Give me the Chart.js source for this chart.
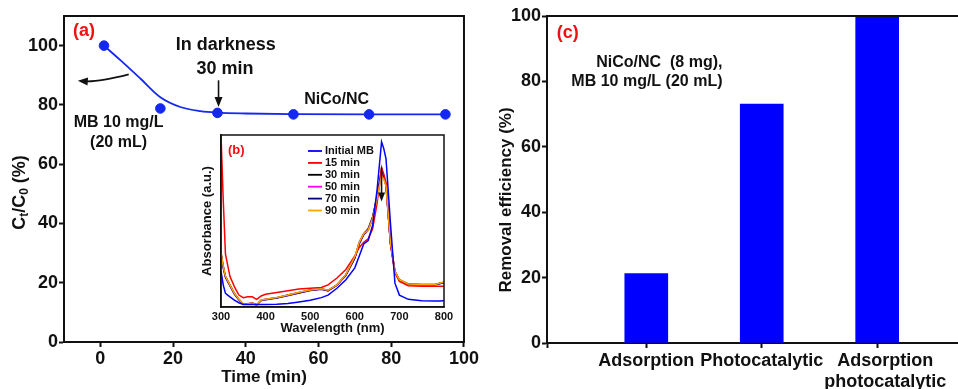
<!DOCTYPE html>
<html>
<head>
<meta charset="utf-8">
<script src="https://cdn.jsdelivr.net/npm/chart.js@4.4.1/dist/chart.umd.min.js"></script>
<style>
  html, body { margin: 0; padding: 0; background: #fff; }
  #wrap { position: relative; width: 958px; height: 389px; overflow: hidden; }
  canvas { position: absolute; }
  #chartA { left: 0; top: 0; }
  #chartB { left: 196px; top: 128px; }
  #chartC { left: 480px; top: 0; }
</style>
</head>
<body>
<div id="wrap">
  <canvas id="chartA" width="480" height="389"></canvas>
  <canvas id="chartB" width="262" height="210"></canvas>
  <canvas id="chartC" width="478" height="389"></canvas>
</div>
<script>
"use strict";

// ── Panel (a): Ct/C0 vs time ──────────────────────────────
const timePts    = [1, 16.5, 32.2, 53.1, 73.9, 94.9];
const ratioPts   = [100, 78.8, 77.3, 76.8, 76.8, 76.8];
const fitTime    = [1, 5.5, 11, 16.5, 22, 27.5, 32.2, 40, 53.1, 73.9, 94.9];
const fitRatio   = [100, 95.1, 88.9, 82.6, 79.3, 77.9, 77.4, 77.1, 76.9, 76.8, 76.8];
const timeTicks  = [0, 20, 40, 60, 80, 100];
const ratioTicks = [0, 20, 40, 60, 80, 100];

// ── Panel (b): UV-vis spectra (inset) ─────────────────────
const wavelength = [300, 305, 310, 320, 330, 340, 350, 360, 370, 380, 390, 400, 425, 450, 475,
                    500, 525, 540, 560, 580, 600, 610, 620, 630, 640, 650, 660, 665, 670, 680,
                    690, 700, 720, 750, 780, 790, 800];
const spectraLabels = ["Initial MB", "15 min", "30 min", "50 min", "70 min", "90 min"];
const specInitial = [0.20, 0.12, 0.07, 0.05, 0.03, 0.015, 0.005, 0.005, 0.005, 0.005, 0.005, 0.005, 0.006, 0.01, 0.02,
                     0.03, 0.045, 0.06, 0.10, 0.15, 0.22, 0.29, 0.36, 0.38, 0.47, 0.68, 0.96, 0.92, 0.86, 0.48,
                     0.13, 0.06, 0.035, 0.027, 0.025, 0.025, 0.027];
const spec15  = [1.0, 0.62, 0.30, 0.17, 0.11, 0.06, 0.045, 0.05, 0.05, 0.035, 0.055, 0.065, 0.075, 0.085, 0.095,
                 0.10, 0.105, 0.12, 0.16, 0.21, 0.29, 0.34, 0.37, 0.39, 0.45, 0.60, 0.81, 0.77, 0.72, 0.36,
                 0.19, 0.14, 0.115, 0.112, 0.112, 0.112, 0.112];
const spec30  = [0.31, 0.23, 0.17, 0.12, 0.07, 0.035, 0.008, 0.008, 0.014, 0.002, 0.03, 0.035, 0.045, 0.06, 0.075,
                 0.09, 0.097, 0.087, 0.12, 0.18, 0.28, 0.37, 0.42, 0.45, 0.52, 0.64, 0.78, 0.75, 0.71, 0.37,
                 0.20, 0.15, 0.125, 0.122, 0.122, 0.13, 0.135];
const spec50  = [0.30, 0.225, 0.165, 0.115, 0.068, 0.033, 0.006, 0.007, 0.013, 0.002, 0.029, 0.034, 0.044, 0.058, 0.073,
                 0.088, 0.095, 0.085, 0.118, 0.178, 0.278, 0.365, 0.418, 0.445, 0.515, 0.635, 0.775, 0.745, 0.705, 0.365,
                 0.198, 0.148, 0.123, 0.12, 0.12, 0.128, 0.133];
const spec70  = [0.30, 0.22, 0.165, 0.115, 0.066, 0.032, 0.006, 0.006, 0.012, 0.002, 0.029, 0.033, 0.043, 0.057, 0.072,
                 0.087, 0.094, 0.085, 0.118, 0.176, 0.276, 0.36, 0.415, 0.44, 0.51, 0.64, 0.80, 0.76, 0.70, 0.36,
                 0.195, 0.146, 0.122, 0.12, 0.12, 0.127, 0.132];
const spec90  = [0.31, 0.23, 0.17, 0.12, 0.07, 0.035, 0.008, 0.009, 0.014, 0.003, 0.031, 0.036, 0.046, 0.06, 0.076,
                 0.09, 0.097, 0.088, 0.12, 0.18, 0.285, 0.37, 0.42, 0.44, 0.51, 0.63, 0.76, 0.74, 0.70, 0.37,
                 0.20, 0.15, 0.125, 0.122, 0.122, 0.13, 0.137];
const spectraColors = ["#0000ff", "#ff0000", "#000000", "#ff00ff", "#000080", "#ffa500"];
const spectraOrder  = [0, 2, 5, 4, 3, 1];   // lower = drawn on top
const wlTicks = [300, 400, 500, 600, 700, 800];

// ── Panel (c): removal efficiency ─────────────────────────
const methods      = ["Adsorption", "Photocatalytic", ["Adsorption", "photocatalytic"]];
const methodPos    = [1, 2, 3];
const removal      = [21.2, 73.1, 100];
const sepTicks     = [0.57, 1.43, 2.57, 3.43];
const removalTicks = [0, 20, 40, 60, 80, 100];

// ── Helpers ───────────────────────────────────────────────
const FONT = "'Liberation Sans', Arial, sans-serif";
const INK  = "#111";
const RED  = "#f01010";
const BLUE = "#1428f0";

function el(id) { return document.getElementById(id); }
const bold = (size) => ({ family: FONT, size, weight: "bold" });
const pts  = (xs, ys) => xs.map((x, i) => ({ x, y: ys[i] }));
const fixTicks = (list) => (s) => { s.ticks = list.map((v) => ({ value: v })); };

function arrowHead(ctx, x, y, ang, len, wid) {
  ctx.save();
  ctx.translate(x, y);
  ctx.rotate(ang);
  ctx.beginPath();
  ctx.moveTo(0, 0);
  ctx.lineTo(-len, -wid / 2);
  ctx.lineTo(-len, wid / 2);
  ctx.closePath();
  ctx.fill();
  ctx.restore();
}

function drawText(ctx, text, x, y, size, color, align) {
  ctx.font = `bold ${size}px ${FONT}`;
  ctx.fillStyle = color || INK;
  ctx.textAlign = align || "center";
  ctx.textBaseline = "middle";
  ctx.fillText(text, x, y);
}

// scale style shared by the axes
function axisStyle(tickLen, lineW, tickColor) {
  return {
    grid:   { drawOnChartArea: false, drawTicks: true, tickLength: tickLen, tickWidth: lineW, tickColor: tickColor || INK },
    border: { display: true, color: INK, width: lineW },
  };
}

// ── Chart (a) ─────────────────────────────────────────────
const notesA = [
  { text: "(a)",         x: -7.5, y: 104.9, size: 18, color: RED, align: "left" },
  { text: "In darkness", x: 34.5, y: 100.2, size: 18 },
  { text: "30 min",      x: 34.3, y: 92.0,  size: 18 },
  { text: "NiCo/NC",     x: 65.0, y: 81.9,  size: 16 },
  { text: "MB 10 mg/L",  x: 5.0,  y: 74.0,  size: 16 },
  { text: "(20 mL)",     x: 5.0,  y: 67.2,  size: 16 },
];

const panelA = {
  id: "panelA",
  afterDraw(chart) {
    const { ctx, chartArea: ca, scales: { x, y } } = chart;
    ctx.save();
    ctx.strokeStyle = INK;
    ctx.lineWidth = 2;
    ctx.strokeRect(ca.left, ca.top, ca.width, ca.height);

    notesA.forEach((n) =>
      drawText(ctx, n.text, x.getPixelForValue(n.x), y.getPixelForValue(n.y), n.size, n.color, n.align));

    // straight arrow under "30 min"
    ctx.fillStyle = INK;
    ctx.lineWidth = 1.6;
    const ax = x.getPixelForValue(32.5);
    const y1 = y.getPixelForValue(88.3), y2 = y.getPixelForValue(79.3);
    ctx.beginPath(); ctx.moveTo(ax, y1); ctx.lineTo(ax, y2 - 8); ctx.stroke();
    arrowHead(ctx, ax, y2, Math.PI / 2, 10, 8);

    // curved arrow pointing to the y axis
    const sx = x.getPixelForValue(7.8),  sy = y.getPixelForValue(90.3);
    const cx = x.getPixelForValue(-0.9), cy = y.getPixelForValue(87.6);
    const ex = x.getPixelForValue(-6.2), ey = y.getPixelForValue(88.0);
    ctx.beginPath(); ctx.moveTo(sx, sy); ctx.quadraticCurveTo(cx, cy, ex + 6, ey); ctx.stroke();
    arrowHead(ctx, ex, ey - 0.5, Math.PI + 0.08, 10, 8);

    // y title with subscripts: Ct/C0 (%)
    const parts = [["C", 18, 0], ["t", 12, 5], ["/C", 18, 0], ["0", 12, 5], [" (%)", 18, 0]];
    ctx.translate(20, 192.5);
    ctx.rotate(-Math.PI / 2);
    let w = 0;
    parts.forEach(([t, s]) => { ctx.font = `bold ${s}px ${FONT}`; w += ctx.measureText(t).width; });
    let px = -w / 2;
    ctx.textAlign = "left";
    ctx.textBaseline = "middle";
    ctx.fillStyle = INK;
    parts.forEach(([t, s, dy]) => {
      ctx.font = `bold ${s}px ${FONT}`;
      ctx.fillText(t, px, dy);
      px += ctx.measureText(t).width;
    });
    ctx.restore();
  },
};

new Chart(el("chartA"), {
  type: "scatter",
  data: {
    datasets: [
      {
        type: "line",
        data: pts(fitTime, fitRatio),
        borderColor: BLUE,
        borderWidth: 1.8,
        pointRadius: 0,
        cubicInterpolationMode: "monotone",
        fill: false,
      },
      {
        data: pts(timePts, ratioPts),
        backgroundColor: BLUE,
        borderColor: BLUE,
        pointRadius: 4.8,
        showLine: false,
      },
    ],
  },
  options: {
    responsive: false,
    animation: false,
    layout: { padding: { top: 16, right: 16, left: 0, bottom: 0 } },
    plugins: { legend: { display: false }, tooltip: { enabled: false } },
    scales: {
      x: {
        type: "linear", min: -10, max: 100,
        afterBuildTicks: fixTicks(timeTicks),
        afterFit: (s) => { s.height = 47; },
        ...axisStyle(5, 2),
        ticks: { font: bold(18), color: INK, padding: 1, maxRotation: 0 },
        title: { display: true, text: "Time (min)", font: bold(17), color: INK, padding: { top: 0, bottom: 1 } },
      },
      y: {
        min: 0, max: 110,
        afterBuildTicks: fixTicks(ratioTicks),
        afterFit: (s) => { s.width = 64; },
        ...axisStyle(5, 2),
        ticks: { font: bold(18), color: INK, padding: 1 },
      },
    },
  },
  plugins: [panelA],
});

// ── Chart (b): inset ──────────────────────────────────────
const spectra = [specInitial, spec15, spec30, spec50, spec70, spec90];

const panelB = {
  id: "panelB",
  afterDraw(chart) {
    const { ctx, chartArea: ca, scales: { x, y } } = chart;
    ctx.save();
    ctx.strokeStyle = INK;
    ctx.lineWidth = 1.5;
    ctx.strokeRect(ca.left, ca.top, ca.width, ca.height);

    drawText(ctx, "(b)", ca.left + 7, ca.top + 15.5, 13, RED, "left");

    // legend
    spectraLabels.forEach((lab, i) => {
      const ly = ca.top + 16 + i * 11.9;
      ctx.strokeStyle = spectraColors[i];
      ctx.lineWidth = 1.8;
      ctx.beginPath(); ctx.moveTo(ca.left + 87, ly); ctx.lineTo(ca.left + 101, ly); ctx.stroke();
      drawText(ctx, lab, ca.left + 104, ly, 11, INK, "left");
    });

    // arrow at the 660 nm peak
    const ax = x.getPixelForValue(660);
    const y1 = y.getPixelForValue(0.81), y2 = y.getPixelForValue(0.61);
    ctx.strokeStyle = INK;
    ctx.fillStyle = INK;
    ctx.lineWidth = 1.5;
    ctx.beginPath(); ctx.moveTo(ax, y1); ctx.lineTo(ax, y2 - 7); ctx.stroke();
    arrowHead(ctx, ax, y2, Math.PI / 2, 9, 7);
    ctx.restore();
  },
};

new Chart(el("chartB"), {
  type: "line",
  data: {
    datasets: spectra.map((s, i) => ({
      label: spectraLabels[i],
      data: pts(wavelength, s),
      borderColor: spectraColors[i],
      borderWidth: 1.5,
      pointRadius: 0,
      tension: 0,
      order: spectraOrder[i],
    })),
  },
  options: {
    responsive: false,
    animation: false,
    layout: { padding: { top: 7, right: 14, left: 0, bottom: 0 } },
    plugins: { legend: { display: false }, tooltip: { enabled: false } },
    scales: {
      x: {
        type: "linear", min: 300, max: 800,
        afterBuildTicks: fixTicks(wlTicks),
        afterFit: (s) => { s.height = 31; },
        ...axisStyle(3, 1.5, "rgba(0,0,0,0)"),
        ticks: { font: bold(11), color: INK, padding: 0, maxRotation: 0 },
        title: { display: true, text: "Wavelength (nm)", font: bold(13), color: INK, padding: { top: 0, bottom: 2 } },
      },
      y: {
        min: -0.01, max: 1.0,
        afterFit: (s) => { s.width = 25; },
        grid: { display: false },
        border: { display: true, color: INK, width: 1.5 },
        ticks: { display: false },
        title: { display: true, text: "Absorbance (a.u.)", font: bold(13), color: INK, padding: { top: 4, bottom: 0 } },
      },
    },
  },
  plugins: [panelB],
});

// ── Chart (c) ─────────────────────────────────────────────
const notesC = [
  { text: "(c)",                x: 0.224, y: 94.8, size: 18, color: RED, align: "left" },
  { text: "NiCo/NC  (8 mg),",   x: 1.66,  y: 85.6, size: 16, align: "right" },
  { text: "MB 10 mg/L (20 mL)", x: 1.66,  y: 79.8, size: 16, align: "right" },
];

const panelC = {
  id: "panelC",
  afterDraw(chart) {
    const { ctx, chartArea: ca, scales: { x, y } } = chart;
    ctx.save();
    ctx.strokeStyle = INK;
    ctx.lineWidth = 2;
    ctx.beginPath(); ctx.moveTo(ca.left, ca.top); ctx.lineTo(ca.right, ca.top); ctx.stroke();

    notesC.forEach((n) =>
      drawText(ctx, n.text, x.getPixelForValue(n.x), y.getPixelForValue(n.y), n.size, n.color, n.align));

    // category labels under the bars
    methods.forEach((m, i) => {
      const lines = Array.isArray(m) ? m : [m];
      const cx = x.getPixelForValue(methodPos[i]) + (lines.length > 1 ? 8 : 0);
      lines.forEach((t, k) => drawText(ctx, t, cx, ca.bottom + 18 + k * 21, 18));
    });

    // rotated y title
    ctx.translate(26.7, 200);
    ctx.rotate(-Math.PI / 2);
    drawText(ctx, "Removal efficiency (%)", 0, 0, 17);
    ctx.restore();
  },
};

new Chart(el("chartC"), {
  type: "bar",
  data: {
    datasets: [{
      data: pts(methodPos, removal),
      backgroundColor: "#0000ff",
      borderWidth: 0,
      barThickness: 43,
    }],
  },
  options: {
    responsive: false,
    animation: false,
    layout: { padding: { top: 16, right: 0, left: 0, bottom: 0 } },
    plugins: { legend: { display: false }, tooltip: { enabled: false } },
    scales: {
      x: {
        type: "linear", min: 0.14, max: 3.7, offset: false,
        afterBuildTicks: fixTicks(sepTicks),
        afterFit: (s) => { s.height = 46; },
        ...axisStyle(5, 2),
        ticks: { callback: () => "", font: bold(18) },
      },
      y: {
        min: 0, max: 100,
        afterBuildTicks: fixTicks(removalTicks),
        afterFit: (s) => { s.width = 67; },
        ...axisStyle(5, 2),
        ticks: { font: bold(18), color: INK, padding: 1 },
      },
    },
  },
  plugins: [panelC],
});
</script>
</body>
</html>
